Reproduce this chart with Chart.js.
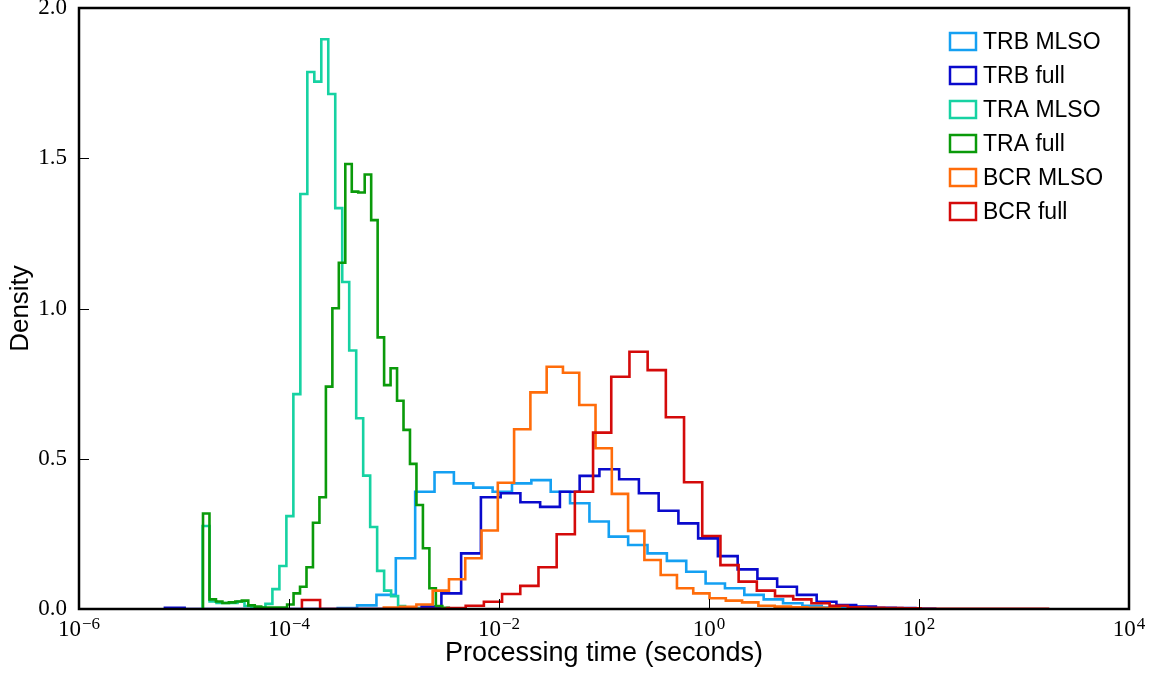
<!DOCTYPE html>
<html>
<head>
<meta charset="utf-8">
<script src="https://cdn.jsdelivr.net/npm/chart.js@4"></script>
<style>
  body { margin: 0; background: #fff; }
</style>
</head>
<body>
<canvas id="canvas1" width="1156" height="675"></canvas>
<script>
const labels = ['TRB MLSO', 'TRB full', 'TRA MLSO', 'TRA full', 'BCR MLSO', 'BCR full'];
const colors = ['#14a0f2', '#0a0acc', '#16d2a2', '#0a9a0a', '#ff6c0a', '#d40a0a'];

// first bin edge (log10 of seconds) and bin width (decades) of each histogram
const binStart = [-3.536, -5.182, -4.823, -4.819, -3.097, -3.877];
const binWidth = [0.1844, 0.1881, 0.0665, 0.0616, 0.1551, 0.1733];

// density in each bin
const trbMlso = [0.003, 0.012, 0.047, 0.169, 0.390, 0.455, 0.418, 0.404, 0.390, 0.418, 0.429, 0.390,
  0.352, 0.291, 0.241, 0.213, 0.185, 0.160, 0.124, 0.085, 0.069, 0.047, 0.032, 0.019, 0.011, 0.005, 0.003, 0.002];
const trbFull = [0.004, 0, 0, 0, 0, 0, 0, 0, 0, 0, 0, 0, 0.003, 0.008, 0.052, 0.185, 0.372, 0.385, 0.355,
  0.340, 0.390, 0.443, 0.465, 0.432, 0.385, 0.327, 0.285, 0.235, 0.176, 0.132, 0.101, 0.074, 0.047, 0.024,
  0.013, 0.008, 0.004, 0.003, 0.001];
const traMlso = [0.276, 0.025, 0.020, 0.020, 0.020, 0.025, 0.010, 0.005, 0.005, 0.017, 0.066, 0.143, 0.309,
  0.715, 1.381, 1.787, 1.755, 1.896, 1.714, 1.334, 1.088, 0.860, 0.635, 0.444, 0.273, 0.127, 0.061, 0.043,
  0.010, 0.004, 0.002];
const traFull = [0.318, 0.032, 0.025, 0.020, 0.022, 0.025, 0.028, 0.012, 0.008, 0.005, 0.005, 0.005, 0.005,
  0.015, 0.052, 0.074, 0.139, 0.287, 0.372, 0.740, 1.001, 1.152, 1.481, 1.389, 1.386, 1.446, 1.294, 0.904,
  0.745, 0.801, 0.693, 0.596, 0.483, 0.346, 0.202, 0.069, 0.010, 0.004, 0.002];
const bcrMlso = [0.005, 0.007, 0.015, 0.061, 0.099, 0.169, 0.261, 0.420, 0.598, 0.721, 0.806, 0.786, 0.679,
  0.535, 0.383, 0.260, 0.163, 0.113, 0.069, 0.052, 0.036, 0.028, 0.022, 0.011, 0.008, 0.006, 0.004, 0.003];
const bcrFull = [0.030, 0, 0, 0, 0, 0, 0, 0, 0.003, 0.011, 0.024, 0.050, 0.077, 0.139, 0.249, 0.390, 0.587,
  0.773, 0.856, 0.795, 0.638, 0.422, 0.243, 0.146, 0.091, 0.061, 0.043, 0.032, 0.019, 0.011, 0.006, 0.004,
  0.003, 0.002, 0.001, 0.001, 0.001, 0.001, 0.001, 0.001, 0.001];

const xTickPowers = [-6, -4, -2, 0, 2, 4];
const yTicks = [0, 0.5, 1.0, 1.5, 2.0];

const series = [trbMlso, trbFull, traMlso, traFull, bcrMlso, bcrFull];

// outline of a step histogram: one point per left bin edge, closed down to zero at both ends
function stepPoints(start, width, vals) {
  const pts = [{x: Math.pow(10, start), y: 0}];
  vals.forEach((v, i) => {
    pts.push({x: Math.pow(10, start + i * width), y: v});
  });
  pts.push({x: Math.pow(10, start + vals.length * width), y: 0});
  return pts;
}

const datasets = series.map((vals, i) => ({
  label: labels[i],
  data: stepPoints(binStart[i], binWidth[i], vals),
  borderColor: colors[i],
  backgroundColor: 'rgba(0,0,0,0)',
  borderWidth: 2.6,
  stepped: true,
  pointRadius: 0,
  fill: false,
  order: -i
}));

// frame, inward ticks, 10^n labels and the legend box inside the plot
const decorations = {
  id: 'decorations',
  afterDraw(chart) {
    const ctx = chart.ctx;
    const a = chart.chartArea;
    const x = chart.scales.x;
    const y = chart.scales.y;
    ctx.save();

    ctx.strokeStyle = '#000';
    ctx.lineWidth = 1;
    ctx.beginPath();
    xTickPowers.forEach(p => {
      const px = Math.round(x.getPixelForValue(Math.pow(10, p))) + 0.5;
      ctx.moveTo(px, a.bottom);
      ctx.lineTo(px, a.bottom - 10);
    });
    yTicks.forEach(v => {
      const py = Math.round(y.getPixelForValue(v)) + 0.5;
      ctx.moveTo(a.left, py);
      ctx.lineTo(a.left + 10, py);
    });
    ctx.stroke();

    ctx.lineWidth = 2.5;
    ctx.strokeRect(a.left, a.top, a.right - a.left, a.bottom - a.top);

    ctx.fillStyle = '#000';
    ctx.textBaseline = 'alphabetic';
    ctx.textAlign = 'left';
    xTickPowers.forEach(p => {
      const px = x.getPixelForValue(Math.pow(10, p));
      const base = '10';
      const exp = (p < 0 ? '\u2212' : '') + Math.abs(p);
      ctx.font = '23px "Liberation Serif"';
      const w1 = ctx.measureText(base).width;
      ctx.font = '17px "Liberation Serif"';
      const w2 = ctx.measureText(exp).width;
      const x0 = px - (w1 + w2 + 1) / 2;
      ctx.font = '23px "Liberation Serif"';
      ctx.fillText(base, x0, a.bottom + 27);
      ctx.font = '17px "Liberation Serif"';
      ctx.fillText(exp, x0 + w1 + 1, a.bottom + 20);
    });

    ctx.font = '23px "Liberation Sans"';
    ctx.textBaseline = 'middle';
    chart.data.datasets.forEach((ds, i) => {
      const top = a.top + 25 + i * 34;
      ctx.strokeStyle = ds.borderColor;
      ctx.lineWidth = 2.5;
      ctx.strokeRect(a.right - 179, top, 26, 17);
      ctx.fillStyle = '#000';
      ctx.fillText(ds.label, a.right - 146, top + 10);
    });

    ctx.restore();
  }
};

const c1 = new Chart(document.getElementById('canvas1'), {
  type: 'line',
  data: { datasets: datasets },
  options: {
    responsive: false,
    animation: false,
    devicePixelRatio: 1,
    layout: { padding: { top: 8, right: 27, left: 0, bottom: 0 } },
    plugins: {
      legend: { display: false },
      tooltip: { enabled: false }
    },
    scales: {
      x: {
        type: 'logarithmic',
        min: 1e-6,
        max: 1e4,
        afterBuildTicks: s => { s.ticks = xTickPowers.map(p => ({ value: Math.pow(10, p) })); },
        ticks: { display: false },
        grid: { display: false, drawTicks: false },
        border: { display: false },
        title: {
          display: true,
          text: 'Processing time (seconds)',
          color: '#000',
          font: { family: 'Liberation Sans', size: 27 },
          padding: { top: 0, bottom: 5 }
        },
        afterFit: s => { s.height = 66; s.paddingLeft = 0; s.paddingRight = 0; }
      },
      y: {
        type: 'linear',
        min: 0,
        max: 2,
        afterBuildTicks: s => { s.ticks = yTicks.map(v => ({ value: v })); },
        ticks: {
          callback: v => v.toFixed(1),
          color: '#000',
          font: { family: 'Liberation Serif', size: 23 },
          padding: 12
        },
        grid: { display: false, drawTicks: false },
        border: { display: false },
        title: {
          display: true,
          text: 'Density',
          color: '#000',
          font: { family: 'Liberation Sans', size: 26 },
          padding: { top: 5, bottom: 0 }
        },
        afterFit: s => { s.width = 79; s.paddingTop = 0; s.paddingBottom = 0; }
      }
    }
  },
  plugins: [decorations]
});
</script>
</body>
</html>
